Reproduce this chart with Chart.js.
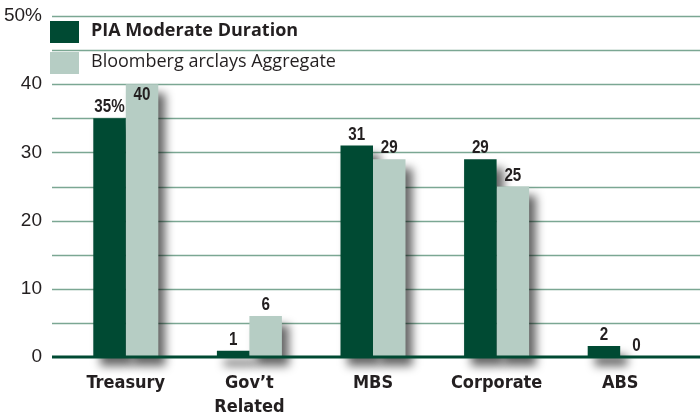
<!DOCTYPE html>
<html>
<head>
<meta charset="utf-8">
<script src="https://cdn.jsdelivr.net/npm/chart.js@4/dist/chart.umd.min.js"></script>
<style>
  body { margin: 0; background: #fff; }
  #wrap { width: 700px; height: 418px; }
</style>
</head>
<body>
<div id="wrap"><canvas id="myChart" width="700" height="418"></canvas></div>
<script>
// data
var categories = ['Treasury', ['Gov\u2019t', 'Related'], 'MBS', 'Corporate', 'ABS'];
var seriesNames = ['PIA Moderate Duration', 'Bloomberg arclays Aggregate'];
var piaValues = [35, 0.9, 31, 29, 1.6];
var aggValues = [40, 6, 29, 25, 0];
var yTicks = [0, 10, 20, 30, 40, 50];

var DARK = '#004a33';
var LIGHT = '#b6cdc4';
var GRID = '#7ba793';
var TEXT = '#231f20';

// gridlines across the full width + bar shadows
var backPlugin = {
  id: 'back',
  beforeDatasetsDraw: function(chart) {
    var ctx = chart.ctx;
    var y = chart.scales.y;
    ctx.save();
    ctx.strokeStyle = GRID;
    ctx.lineWidth = 1.5;
    for (var v = 5; v <= 50; v += 5) {
      var py = Math.round(y.getPixelForValue(v)) + 0.5;
      ctx.beginPath();
      ctx.moveTo(52, py);
      ctx.lineTo(700, py);
      ctx.stroke();
    }
    // drop shadows
    ctx.filter = 'blur(5px)';
    ctx.fillStyle = 'rgba(0,0,0,0.6)';
    chart.data.datasets.forEach(function(ds, i) {
      chart.getDatasetMeta(i).data.forEach(function(bar) {
        var p = bar.getProps(['x', 'y', 'base', 'width'], true);
        if (p.base - p.y < 1) return;
        ctx.fillRect(p.x - p.width / 2 + 7, p.y + 9, p.width, p.base - p.y);
      });
    });
    ctx.restore();
  },
  afterDatasetsDraw: function(chart) {
    var ctx = chart.ctx;
    var y = chart.scales.y;
    // zero line
    ctx.save();
    ctx.strokeStyle = DARK;
    ctx.lineWidth = 3;
    var py0 = y.getPixelForValue(0);
    ctx.beginPath();
    ctx.moveTo(52, py0);
    ctx.lineTo(700, py0);
    ctx.stroke();

    // value labels (squeezed a bit, the original face is condensed)
    ctx.fillStyle = TEXT;
    ctx.font = 'bold 19px "Liberation Sans", sans-serif';
    ctx.textAlign = 'center';
    ctx.textBaseline = 'alphabetic';
    chart.data.datasets.forEach(function(ds, i) {
      chart.getDatasetMeta(i).data.forEach(function(bar, j) {
        var val = ds.data[j];
        var txt = Math.round(val) + (i === 0 && j === 0 ? '%' : '');
        var ty = bar.y - 6;
        if (val >= 40) ty = bar.y + 16; // no room above, goes inside the top
        ctx.save();
        ctx.translate(bar.x, ty);
        ctx.scale(0.8, 1);
        ctx.fillText(txt, 0, 0);
        ctx.restore();
      });
    });

    // legend
    var items = [
      { label: seriesNames[0], color: DARK, font: 'bold 18px "Open Sans", sans-serif', y: 21, w: 217 },
      { label: seriesNames[1], color: LIGHT, font: '18px "Open Sans", sans-serif', y: 52, w: 261 }
    ];
    ctx.textAlign = 'left';
    items.forEach(function(it) {
      ctx.fillStyle = it.color;
      ctx.fillRect(50, it.y, 29, 22);
      ctx.fillStyle = TEXT;
      ctx.font = it.font;
      ctx.fillText(it.label, 91, it.y + 15, it.w);
    });
    ctx.restore();
  }
};

var ctx = document.getElementById('myChart').getContext('2d');
var myBarChart = new Chart(ctx, {
  type: 'bar',
  data: {
    labels: categories,
    datasets: [{
      label: seriesNames[0],
      data: piaValues,
      backgroundColor: DARK
    }, {
      label: seriesNames[1],
      data: aggValues,
      backgroundColor: LIGHT
    }]
  },
  options: {
    responsive: false,
    devicePixelRatio: 1,
    animation: false,
    categoryPercentage: 0.526,
    barPercentage: 1,
    layout: { padding: { top: 16, right: 18, bottom: 0, left: 0 } },
    plugins: {
      legend: { display: false },
      tooltip: { enabled: false }
    },
    scales: {
      x: {
        grid: { display: false, drawTicks: false },
        border: { display: false },
        ticks: {
          color: TEXT,
          padding: 14,
          maxRotation: 0,
          autoSkip: false,
          font: { family: '"DejaVu Sans Condensed", "DejaVu Sans", sans-serif', weight: 'bold', size: 18, lineHeight: 1.35 }
        },
        afterFit: function(scale) { scale.height = 61; }
      },
      y: {
        min: 0,
        max: 50,
        grid: { display: false, drawTicks: false },
        border: { display: false },
        afterBuildTicks: function(scale) {
          scale.ticks = yTicks.map(function(v) { return { value: v }; });
        },
        ticks: {
          color: TEXT,
          padding: 22,
          font: { family: '"Liberation Sans", sans-serif', size: 19 },
          callback: function(v) { return v === 50 ? '50%' : v; }
        },
        afterFit: function(scale) {
          scale.width = 64;
          scale.paddingTop = 0;
          scale.paddingBottom = 0;
        }
      }
    }
  },
  plugins: [backPlugin]
});
</script>
</body>
</html>
